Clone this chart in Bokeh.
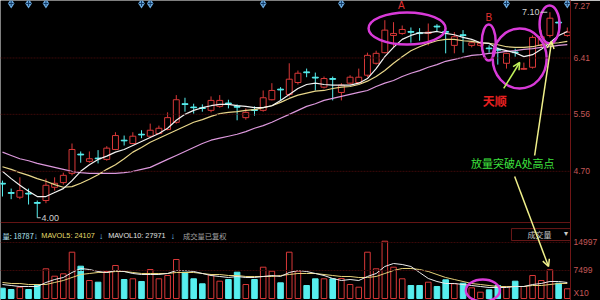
from bokeh.plotting import figure
from bokeh.models import Range1d, LinearAxis, FixedTicker, Span, Arrow, OpenHead, Grid
from bokeh.core.properties import value
from bokeh.embed import file_html
from bokeh.resources import INLINE

# ---------------- data ----------------
opens = [4.52, 4.38, 4.31, 4.37, 4.23, 4.26, 4.46, 4.53, 4.67, 4.96,
         4.85, 4.90, 4.88, 5.03, 5.17, 5.12, 5.26, 5.23, 5.27, 5.33,
         5.44, 5.72, 5.67, 5.66, 5.62, 5.68, 5.73, 5.68, 5.51, 5.63,
         5.62, 5.78, 5.94, 5.86, 6.04, 6.20, 6.12, 5.97, 6.10, 5.89,
         6.03, 6.04, 6.15, 6.33, 6.49, 6.75, 6.78, 6.81, 6.79, 6.78,
         6.89, 6.81, 6.60, 6.76, 6.60, 6.60, 6.56, 6.54, 6.33, 6.50,
         6.24, 6.27, 6.60, 6.75, 6.95, 6.75]
highs = [4.56, 4.44, 4.61, 4.44, 4.26, 4.59, 4.61, 4.68, 5.12, 5.00,
         5.00, 5.02, 5.08, 5.29, 5.24, 5.29, 5.32, 5.42, 5.39, 5.59,
         5.85, 5.81, 5.72, 5.71, 5.83, 5.85, 5.78, 5.71, 5.65, 5.68,
         5.92, 6.03, 5.97, 6.33, 6.22, 6.25, 6.19, 6.13, 6.13, 6.03,
         6.15, 6.25, 6.49, 6.52, 6.98, 6.95, 6.90, 6.87, 6.86, 6.93,
         6.92, 6.86, 6.80, 6.83, 6.67, 6.66, 6.60, 6.57, 6.49, 6.55,
         6.34, 6.75, 6.83, 7.10, 6.98, 6.87]
lows = [4.32, 4.28, 4.28, 4.20, 4.00, 4.22, 4.41, 4.50, 4.64, 4.83,
        4.83, 4.82, 4.86, 5.02, 5.09, 5.11, 5.20, 5.21, 5.26, 5.32,
        5.42, 5.60, 5.57, 5.60, 5.59, 5.66, 5.65, 5.47, 5.48, 5.54,
        5.60, 5.77, 5.77, 5.83, 6.01, 6.12, 5.92, 5.95, 5.77, 5.77,
        6.01, 6.03, 6.12, 6.31, 6.48, 6.57, 6.76, 6.64, 6.67, 6.60,
        6.81, 6.48, 6.48, 6.49, 6.57, 6.58, 6.49, 6.31, 6.25, 6.43,
        6.23, 6.25, 6.57, 6.72, 6.83, 6.73]
closes = [4.37, 4.31, 4.41, 4.23, 4.19, 4.49, 4.52, 4.64, 5.03, 4.88,
          4.89, 4.89, 5.05, 5.24, 5.16, 5.23, 5.25, 5.32, 5.35, 5.51,
          5.78, 5.62, 5.66, 5.64, 5.77, 5.77, 5.72, 5.51, 5.59, 5.61,
          5.81, 5.92, 5.83, 6.09, 6.18, 6.18, 5.97, 6.10, 5.81, 6.00,
          6.12, 6.12, 6.45, 6.48, 6.83, 6.78, 6.84, 6.75, 6.77, 6.80,
          6.86, 6.60, 6.73, 6.60, 6.64, 6.63, 6.55, 6.33, 6.48, 6.49,
          6.25, 6.72, 6.73, 7.01, 6.87, 6.80]
volumes = [2758, 2410, 3026, 2410, 3749, 7954, 5972, 6615, 12399, 8650,
           4820, 4365, 7231, 8837, 5088, 5276, 4553, 7766, 5276, 6159,
           10444, 7043, 5276, 3937, 6347, 4633, 5088, 7043, 3749, 5088,
           8382, 7311, 4204, 12399, 7311, 3481, 5276, 5276, 5276, 5356,
           3749, 3026, 12399, 7954, 15345, 8382, 5276, 3481, 3481, 4365,
           3214, 5008, 3937, 4097, 2865, 1687, 2330, 3481, 3214, 4633,
           3214, 6159, 4820, 7686, 4097, 2598]
ma5 = [4.70, 4.59, 4.49, 4.40, 4.32, 4.32, 4.38, 4.44, 4.56, 4.70,
       4.80, 4.88, 4.93, 4.99, 5.03, 5.09, 5.15, 5.21, 5.27, 5.35,
       5.47, 5.56, 5.62, 5.66, 5.69, 5.71, 5.71, 5.69, 5.68, 5.66,
       5.66, 5.69, 5.77, 5.86, 5.95, 6.01, 6.03, 6.01, 6.00, 6.00,
       6.00, 6.03, 6.10, 6.25, 6.43, 6.57, 6.69, 6.75, 6.79, 6.79,
       6.81, 6.78, 6.76, 6.72, 6.69, 6.64, 6.63, 6.55, 6.52, 6.49,
       6.43, 6.46, 6.54, 6.64, 6.75, 6.81]
ma10 = [4.77, 4.73, 4.68, 4.64, 4.59, 4.55, 4.50, 4.46, 4.47, 4.52,
        4.58, 4.65, 4.73, 4.80, 4.89, 4.99, 5.06, 5.14, 5.20, 5.26,
        5.32, 5.38, 5.44, 5.48, 5.53, 5.57, 5.59, 5.60, 5.62, 5.63,
        5.66, 5.69, 5.74, 5.80, 5.85, 5.88, 5.91, 5.92, 5.95, 5.97,
        5.98, 6.01, 6.06, 6.13, 6.22, 6.33, 6.43, 6.52, 6.58, 6.63,
        6.67, 6.69, 6.69, 6.67, 6.66, 6.64, 6.63, 6.61, 6.58, 6.57,
        6.57, 6.58, 6.61, 6.63, 6.64, 6.66]
ma20 = [4.99, 4.94, 4.89, 4.86, 4.82, 4.79, 4.76, 4.73, 4.70, 4.68,
        4.67, 4.67, 4.67, 4.67, 4.68, 4.70, 4.73, 4.76, 4.82, 4.88,
        4.94, 5.00, 5.06, 5.12, 5.17, 5.20, 5.23, 5.26, 5.30, 5.35,
        5.39, 5.44, 5.50, 5.56, 5.62, 5.68, 5.72, 5.77, 5.80, 5.83,
        5.86, 5.89, 5.92, 5.98, 6.03, 6.07, 6.13, 6.18, 6.22, 6.27,
        6.31, 6.36, 6.39, 6.42, 6.45, 6.46, 6.48, 6.49, 6.51, 6.52,
        6.54, 6.55, 6.57, 6.58, 6.60, 6.61]
vol_ma5 = [3749, 3481, 3214, 3214, 3214, 4285, 5088, 5624, 6963, 8034,
           7766, 7231, 6963, 7498, 7231, 6695, 6427, 6427, 6427, 6695,
           7498, 7498, 7231, 6695, 6159, 5892, 5624, 5892, 5624, 5624,
           5892, 6159, 5892, 6963, 7498, 7231, 6695, 6159, 5356, 4820,
           5088, 4820, 5892, 6695, 8570, 9373, 9105, 8570, 6963, 5356,
           4553, 4017, 4017, 3749, 3481, 3214, 2946, 2946, 2946, 3214,
           3214, 3749, 4017, 4553, 4553, 4285]
vol_ma10 = [4285, 4017, 4017, 3749, 3749, 3749, 4285, 4820, 5624, 6427,
            6695, 6963, 6963, 7231, 7231, 6963, 6695, 6695, 6695, 6695,
            6963, 6963, 6963, 6695, 6427, 6427, 6159, 6159, 5892, 5892,
            5892, 5892, 6159, 6427, 6695, 6695, 6695, 6427, 6159, 5892,
            5892, 5624, 5624, 5892, 6695, 7498, 8034, 8034, 7766, 7231,
            6427, 5624, 5088, 4553, 4017, 3749, 3481, 3214, 3214, 3214,
            3214, 3481, 3481, 3749, 4017, 4017]
event_idx = [1, 3, 5, 16, 17, 30, 39, 58, 65]
price_ticks = [7.27, 6.41, 5.56, 4.70]
price_tick_labels = ["7.27", "6.41", "5.56", "4.70"]
vol_ticks = [14997, 7499, 1600]
vol_tick_labels = ["14997", "7499", "X10"]
info_texts = ["量: 18787", "↓", "MAVOL5: 24107", "↓", "MAVOL10: 27971", "↓", "成交量已复权"]

# ---------------- layout constants ----------------
P_TOP, P_BOT = 7.277, 2.752
V_TOP, V_BOT = 79804.0, -535.6
UP, DOWN = "#d83838", "#56eeee"
BG = "black"


def vol_to_price(v):
    return P_BOT + (v - V_BOT) / (V_TOP - V_BOT) * (P_TOP - P_BOT)


n = len(opens)
idx = list(range(n))
up = [c >= o for o, c in zip(opens, closes)]

p = figure(width=600, height=300, output_backend="svg", toolbar_location=None,
           x_range=Range1d(-0.2294, 65.367), y_range=Range1d(P_BOT, P_TOP),
           x_axis_location=None, y_axis_location=None,
           min_border_left=0, min_border_top=0, min_border_bottom=0, min_border_right=28,
           background_fill_color=BG, border_fill_color=BG, outline_line_color=None)
p.extra_y_ranges = {"vol": Range1d(V_BOT, V_TOP)}

# right axis (price + volume labels)
ticks = price_ticks + [vol_to_price(v) for v in vol_ticks]
labels = price_tick_labels + vol_tick_labels
axis = LinearAxis(ticker=FixedTicker(ticks=ticks),
                  major_label_overrides={t: s for t, s in zip(ticks, labels)},
                  axis_line_color="#701616", axis_line_width=1,
                  major_tick_in=0, major_tick_out=0, minor_tick_in=0, minor_tick_out=0,
                  major_label_standoff=3, major_label_text_color="#c45858",
                  major_label_text_font="Liberation Sans", major_label_text_font_size="8.5px")
p.add_layout(axis, "right")

# no default grids; own dark-red grid lines & panel separator
for obj in list(p.center):
    if isinstance(obj, Grid):
        obj.visible = False
        obj.grid_line_color = None
for t in price_ticks[1:] + [vol_to_price(v) for v in vol_ticks[:2]]:
    p.add_layout(Span(location=t, dimension="width", line_color="#3a0909", line_width=1,
                      line_dash="2 1"))
p.add_layout(Span(location=vol_to_price(20350), dimension="width", line_color="#641414", line_width=1))

# ---------------- volume panel ----------------
up_i = [i for i in idx if up[i]]
dn_i = [i for i in idx if not up[i]]
p.vbar(x=dn_i, top=[volumes[i] for i in dn_i], bottom=0, width=0.64, y_range_name="vol",
       fill_color=DOWN, line_color=DOWN)
p.vbar(x=up_i, top=[volumes[i] for i in up_i], bottom=0, width=0.64, y_range_name="vol",
       fill_color=None, line_color=UP, line_width=1)
p.line(idx, vol_ma10, y_range_name="vol", line_color="#e6d27a", line_width=1)
p.line(idx, vol_ma5, y_range_name="vol", line_color="#ececec", line_width=1)

# ---------------- price panel ----------------
p.segment(x0=idx, y0=lows, x1=idx, y1=highs,
          line_color=[UP if u else DOWN for u in up], line_width=1)
p.vbar(x=dn_i, top=[opens[i] for i in dn_i], bottom=[max(closes[i], opens[i] - 0.012) for i in dn_i],
       width=0.68, fill_color=DOWN, line_color=DOWN)
p.vbar(x=up_i, top=[max(closes[i], opens[i] + 0.012) for i in up_i], bottom=[opens[i] for i in up_i],
       width=0.68, fill_color=BG, line_color=UP, line_width=1)
p.line(idx, ma20, line_color="#dc98dc", line_width=1.2)
p.line(idx, ma10, line_color="#e8d68a", line_width=1.2)
p.line(idx, ma5, line_color="#f2f2f2", line_width=1.2)

# event markers on top
p.scatter(x=event_idx, y=[7.232] * len(event_idx), marker="diamond", size=10,
          fill_color="#6aa8dc", line_color=None)
p.scatter(x=event_idx, y=[7.232] * len(event_idx), marker="cross", size=5,
          line_color="#123a66", line_width=1)

# ---------------- annotations ----------------
MAG = "#d83ad8"
p.ellipse(x=[46.56, 55.96, 59.52, 62.96, 55.28], y=[6.855, 6.644, 6.402, 6.915, 2.903],
          width=[77, 14, 54, 20, 34], height=[32, 36, 60, 38, 22],
          width_units="screen", height_units="screen",
          fill_color=None, line_color=MAG, line_width=2.5)

CJK = value("Noto Sans CJK SC")
SANS = value("Liberation Sans")
p.text(x=[45.9, 55.96], y=[7.20, 7.02], text=["A", "B"], text_color="#e23030",
       text_font=SANS, text_font_size=value("10px"), text_align="center", text_baseline="middle")
p.text(x=[61.8], y=[7.105], text=["7.10"], text_color="#cfcfcf", text_font=SANS,
       text_font_size=value("9px"), text_align="right", text_baseline="middle")
p.segment(x0=[61.9], y0=[7.1], x1=[62.7], y1=[7.1], line_color="#cfcfcf", line_width=1)
p.text(x=[4.5], y=[4.0], text=["4.00"], text_color="#cfcfcf", text_font=SANS,
       text_font_size=value("9px"), text_align="left", text_baseline="middle")
p.segment(x0=[4.0], y0=[4.0], x1=[4.4], y1=[4.0], line_color="#cfcfcf", line_width=1)
p.text(x=[56.65], y=[5.77], text=["天顺"], text_color="#e82020", text_font=CJK,
       text_font_size=value("12px"), text_font_style="bold", text_align="center", text_baseline="middle")
p.text(x=[58.72], y=[4.82], text=["放量突破A处高点"], text_color="#3ee23e", text_font=CJK,
       text_font_size=value("11px"), text_align="center", text_baseline="middle")

p.add_layout(Arrow(end=OpenHead(size=7, line_color="#bff05a", line_width=1.5),
                   x_start=57.68, y_start=5.95, x_end=59.52, y_end=6.342,
                   line_color="#bff05a", line_width=1.5))
p.add_layout(Arrow(end=OpenHead(size=7, line_color="#f0f08a", line_width=1.5),
                   x_start=61.24, y_start=4.939, x_end=63.19, y_end=6.659,
                   line_color="#f0f08a", line_width=1.5))
p.add_layout(Arrow(end=OpenHead(size=7, line_color="#f0f08a", line_width=1.5),
                   x_start=58.94, y_start=4.623, x_end=62.84, y_end=3.265,
                   line_color="#f0f08a", line_width=1.5))

# volume info line
info_y = vol_to_price(16870)
FS = value("7.3px")
p.text(x=[0.0], y=[info_y], text=[info_texts[0]], text_color="#b4e6f4", text_font=CJK,
       text_font_size=FS, text_align="left", text_baseline="middle")
p.text(x=[3.85, 11.35, 19.6], y=[info_y] * 3, text=[info_texts[1], info_texts[3], info_texts[5]],
       text_color="#7fd0ff", text_font=SANS, text_font_size=value("8.5px"),
       text_align="center", text_baseline="middle")
p.text(x=[4.47], y=[info_y], text=[info_texts[2]], text_color="#e4dc6c", text_font=SANS,
       text_font_size=FS, text_align="left", text_baseline="middle")
p.text(x=[12.16], y=[info_y], text=[info_texts[4]], text_color="#e0e0e0", text_font=SANS,
       text_font_size=FS, text_align="left", text_baseline="middle")
p.text(x=[20.76], y=[info_y], text=[info_texts[6]], text_color="#a0a0a0", text_font=CJK,
       text_font_size=FS, text_align="left", text_baseline="middle")

# "成交量" selector box
p.rect(x=[61.97], y=[vol_to_price(17120)], width=59, height=12,
       width_units="screen", height_units="screen", fill_color=BG, line_color="#6a1818")
p.text(x=[61.8], y=[vol_to_price(17120)], text=["成交量"], text_color="#c8c8c8", text_font=CJK,
       text_font_size=value("8px"), text_align="center", text_baseline="middle")
p.text(x=[64.8], y=[vol_to_price(17300)], text=["▾"], text_color="#c8c8c8", text_font=SANS,
       text_font_size=value("8px"), text_align="center", text_baseline="middle")

open("out.html", "w").write(file_html(p, INLINE))
